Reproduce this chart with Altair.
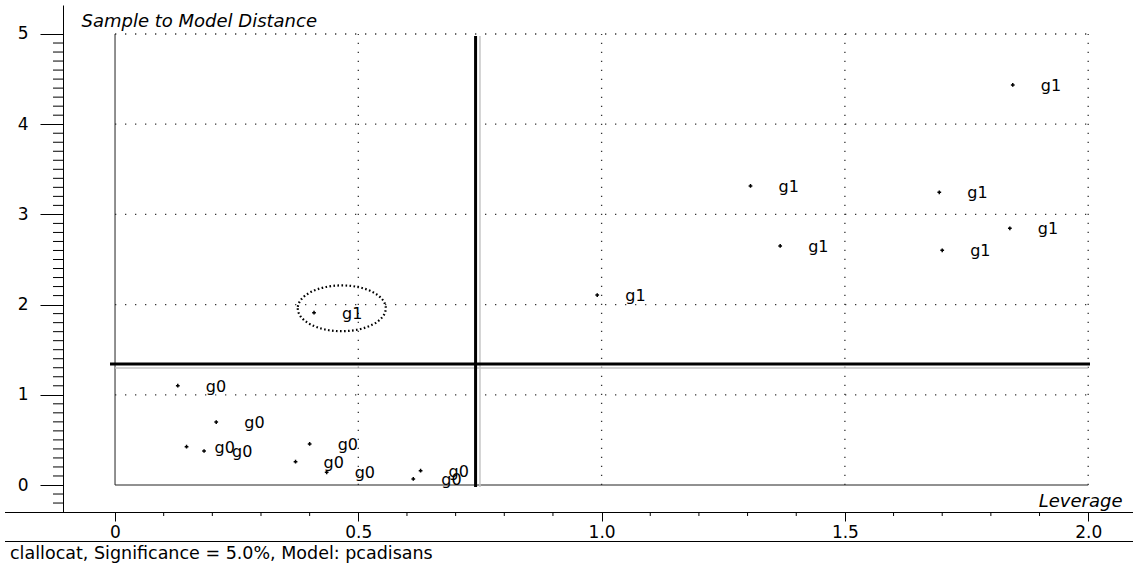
import altair as alt
import pandas as pd

# ---------------- data ----------------
g0_x = [0.129, 0.208, 0.147, 0.183, 0.400, 0.371, 0.435, 0.628, 0.613]
g0_y = [1.101, 0.698, 0.425, 0.377, 0.455, 0.258, 0.141, 0.159, 0.067]
g1_x = [1.845, 1.306, 1.694, 1.839, 1.367, 1.700, 0.991, 0.409]
g1_y = [4.435, 3.315, 3.245, 2.846, 2.650, 2.602, 2.106, 1.910]

x_ticks = [0, 0.5, 1.0, 1.5, 2.0]
x_minor = [0.1, 0.2, 0.3, 0.4, 0.6, 0.7, 0.8, 0.9, 1.1, 1.2, 1.3, 1.4,
           1.6, 1.7, 1.8, 1.9]
y_ticks = [0, 1, 2, 3, 4, 5]
y_minor = [-0.2, -0.1, 0.1, 0.2, 0.3, 0.4, 0.5, 0.6, 0.7, 0.8, 0.9,
           1.1, 1.2, 1.3, 1.4, 1.5, 1.6, 1.7, 1.8, 1.9,
           2.1, 2.2, 2.3, 2.4, 2.5, 2.6, 2.7, 2.8, 2.9,
           3.1, 3.2, 3.3, 3.4, 3.5, 3.6, 3.7, 3.8, 3.9,
           4.1, 4.2, 4.3, 4.4, 4.5, 4.6, 4.7, 4.8, 4.9]
grid_y = [1, 2, 3, 4, 5]
grid_x = [0.5, 1.0, 1.5, 2.0]

leverage_limit = 0.741
leverage_shadow = 0.750
distance_limit = 1.341
distance_shadow = 1.297
highlight_x = [0.466]
highlight_y = [1.959]

x_title = "Leverage"
y_title = "Sample to Model Distance"
caption = "clallocat, Significance = 5.0%, Model: pcadisans"

FONT = "DejaVu Sans"
W, H = 1070, 507

xscale = alt.Scale(domain=[-0.1069, 2.0921], nice=False, zero=False)
yscale = alt.Scale(domain=[-0.2993, 5.3215], nice=False, zero=False)


def X(f="x"):
    return alt.X(f"{f}:Q", scale=xscale)


def Y(f="y"):
    return alt.Y(f"{f}:Q", scale=yscale)


pts = pd.DataFrame({
    "x": g0_x + g1_x,
    "y": g0_y + g1_y,
    "label": ["g0"] * len(g0_x) + ["g1"] * len(g1_x),
})

one = pd.DataFrame({"a": [0]})

# points with the axes (first layer so its axis settings lead) ------
points = alt.Chart(pts).mark_point(
    shape="cross", filled=True, size=14, color="black", opacity=1
).encode(
    x=alt.X("x:Q", scale=xscale, axis=alt.Axis(
        values=x_ticks, domain=False, grid=False, ticks=True, tickSize=9,
        tickColor="black", tickWidth=1,
        labelExpr="datum.value == 0 ? '0' : format(datum.value, '.1f')",
        labelFont=FONT, labelFontSize=17, labelColor="black", labelPadding=3,
        labelFlush=False,
        title=x_title, titleFont=FONT, titleFontSize=18, titleFontStyle="italic",
        titleFontWeight="normal", titleColor="black", titleX=1059, titleY=-6,
        titleAlign="right", titleBaseline="alphabetic", titleAnchor="end")),
    y=alt.Y("y:Q", scale=yscale, axis=alt.Axis(
        values=y_ticks, domain=True, domainColor="black", domainWidth=1,
        grid=False, ticks=True, tickSize=23, tickColor="black", tickWidth=1,
        format="d", labelFont=FONT, labelFontSize=17, labelColor="black",
        labelPadding=12, labelFlush=False,
        title=y_title, titleFont=FONT, titleFontSize=18, titleFontStyle="italic",
        titleFontWeight="normal", titleColor="black", titleAngle=0,
        titleX=18, titleY=16, titleAlign="left", titleBaseline="middle")),
)

# grid (dotted) ----------------------------------------------------
grid_h = alt.Chart(pd.DataFrame({"x": [0] * len(grid_y), "y": grid_y,
                                 "x2": [2.0] * len(grid_y)})).mark_rule(
    color="#333", strokeWidth=1.3, strokeDash=[1.3, 8.7]).encode(
    x=X(), x2="x2:Q", y=Y())
grid_v = alt.Chart(pd.DataFrame({"x": grid_x, "y": [0] * len(grid_x),
                                 "y2": [5] * len(grid_x)})).mark_rule(
    color="#333", strokeWidth=1.3, strokeDash=[1.3, 7.7]).encode(
    x=X(), y=Y(), y2="y2:Q")

# frame (left + bottom) -------------------------------------------
frame_left = alt.Chart(pd.DataFrame({"x": [0], "y": [0], "y2": [5]})).mark_rule(
    color="#222", strokeWidth=1).encode(x=X(), y=Y(), y2="y2:Q")
frame_bottom = alt.Chart(pd.DataFrame({"x": [0], "x2": [2.0], "y": [0]})).mark_rule(
    color="#222", strokeWidth=1).encode(x=X(), x2="x2:Q", y=Y())

# limit lines -----------------------------------------------------
lim_v_shadow = alt.Chart(pd.DataFrame({"x": [leverage_shadow], "y": [-0.022], "y2": [4.978]})).mark_rule(
    color="#c4c4c4", strokeWidth=1.5).encode(x=X(), y=Y(), y2="y2:Q")
lim_h_shadow = alt.Chart(pd.DataFrame({"x": [0.0], "y": [distance_shadow], "x2": [2.0]})).mark_rule(
    color="#c4c4c4", strokeWidth=1.5).encode(x=X(), x2="x2:Q", y=Y())
lim_v = alt.Chart(pd.DataFrame({"x": [leverage_limit], "y": [-0.022], "y2": [4.978]})).mark_rule(
    color="black", strokeWidth=3).encode(x=X(), y=Y(), y2="y2:Q")
lim_h = alt.Chart(pd.DataFrame({"x": [-0.0103], "y": [distance_limit], "x2": [2.0037]})).mark_rule(
    color="black", strokeWidth=3).encode(x=X(), x2="x2:Q", y=Y())

# minor ticks -----------------------------------------------------
minor_x = alt.Chart(pd.DataFrame({"x": x_minor})).mark_rule(
    color="black", strokeWidth=1).encode(x=X(), y=alt.value(H), y2=alt.value(H + 4))
minor_y = alt.Chart(pd.DataFrame({"y": y_minor})).mark_rule(
    color="black", strokeWidth=1).encode(y=Y(), x=alt.value(-10), x2=alt.value(0))

# axis line extension & caption separator -------------------------
x_line = alt.Chart(one).mark_rule(color="black", strokeWidth=1).encode(
    x=alt.value(-58), x2=alt.value(W), y=alt.value(H + 0.5))
cap_line = alt.Chart(one).mark_rule(color="black", strokeWidth=1).encode(
    x=alt.value(-58), x2=alt.value(W), y=alt.value(H + 29.5))
cap_text = alt.Chart(one).mark_text(
    align="left", baseline="alphabetic", font=FONT, fontSize=17.5, color="black"
).encode(x=alt.value(-53), y=alt.value(554), text=alt.value(caption))

labels = alt.Chart(pts).mark_text(
    align="left", baseline="middle", dx=28, dy=1, font=FONT, fontSize=16,
    color="black"
).encode(x=X(), y=Y(), text="label:N")

ellipse = alt.Chart(pd.DataFrame({"x": highlight_x, "y": highlight_y})).mark_point(
    shape="M-1,0A1,0.52,0,1,0,1,0A1,0.52,0,1,0,-1,0Z", size=7744, filled=False,
    stroke="black", strokeWidth=2.2, strokeDash=[1.6, 2.4], opacity=1
).encode(x=X(), y=Y())

chart = alt.layer(
    points, grid_h, grid_v, frame_left, frame_bottom,
    lim_v_shadow, lim_h_shadow, lim_v, lim_h,
    minor_x, minor_y, x_line, cap_line, cap_text,
    labels, ellipse,
).properties(
    width=W, height=H,
    autosize=alt.AutoSizeParams(type="none"),
    padding={"left": 63, "top": 5, "right": 0, "bottom": 52},
    background="white",
).configure_view(stroke=None)

chart.save("out.html", embed_options={"renderer": "svg", "actions": False})
